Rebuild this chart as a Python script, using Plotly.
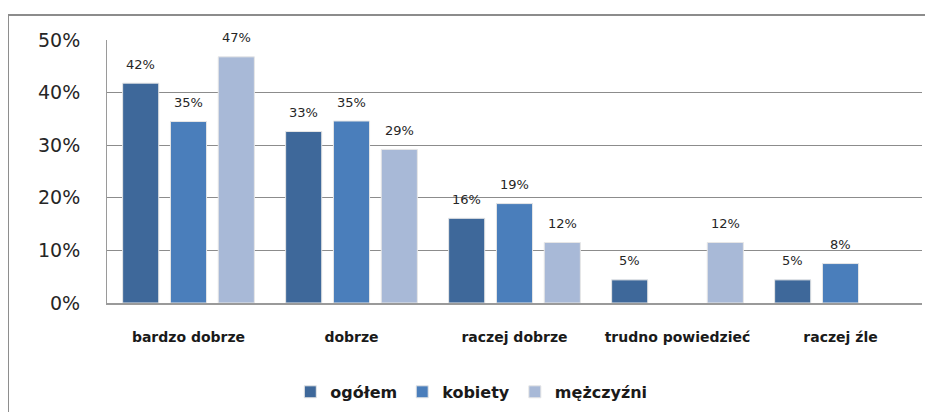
import plotly.graph_objects as go

categories = ["bardzo dobrze", "dobrze", "raczej dobrze", "trudno powiedzieć", "raczej źle"]
series_names = ["ogółem", "kobiety", "mężczyźni"]
ogolem = [41.8, 32.6, 16.1, 4.4, 4.4]
kobiety = [34.5, 34.6, 18.9, 0.0, 7.5]
mezczyzni = [46.8, 29.2, 11.5, 11.5, 0.0]
labels_ogolem = ["42%", "33%", "16%", "5%", "5%"]
labels_kobiety = ["35%", "35%", "19%", "", "8%"]
labels_mezczyzni = ["47%", "29%", "12%", "12%", ""]
y_ticks = [0, 10, 20, 30, 40, 50]
y_tick_labels = ["0%", "10%", "20%", "30%", "40%", "50%"]

colors = ["#3E689A", "#4A7EBB", "#A8B9D7"]
values = [ogolem, kobiety, mezczyzni]
labels = [labels_ogolem, labels_kobiety, labels_mezczyzni]

fig = go.Figure()
for name, vals, col in zip(series_names, values, colors):
    fig.add_trace(go.Bar(
        x=categories, y=vals, name=name,
        marker=dict(color=col, line=dict(color=["#E6E6E6" if v > 0 else "rgba(0,0,0,0)" for v in vals], width=1)),
        hoverinfo="skip",
    ))

# data labels above bars
offsets = [-47.7, 0, 47.7]
for vals, labs, off in zip(values, labels, offsets):
    for c, v, t in zip(categories, vals, labs):
        if t:
            fig.add_annotation(x=c, y=v, text=t, showarrow=False, xref="x", yref="y",
                               xshift=off, yshift=19, yanchor="middle",
                               font=dict(family="DejaVu Sans", size=13, color="#262626"))

# outer frame
fig.add_shape(type="line", xref="paper", yref="paper", x0=-0.1215, x1=1.05, y0=1.0947, y1=1.0947,
              line=dict(color="#8C8C8C", width=2))
fig.add_shape(type="line", xref="paper", yref="paper", x0=-0.1215, x1=-0.1215, y0=1.0947, y1=-0.5,
              line=dict(color="#8C8C8C", width=2))

fig.update_layout(
    width=933, height=412,
    margin=dict(l=99, r=19, t=32, b=116),
    paper_bgcolor="white", plot_bgcolor="white",
    barmode="group", bargap=0.12, bargroupgap=0.245,
    showlegend=True,
    legend=dict(orientation="h", x=0.447, xanchor="center", y=-0.333, yanchor="middle",
                font=dict(family="DejaVu Sans", size=16, color="#1a1a1a", weight="bold"),
                itemclick=False, traceorder="normal", itemwidth=30),
    font=dict(family="DejaVu Sans"),
)
fig.update_xaxes(
    showgrid=False, showline=True, linecolor="#9A9A9A", linewidth=2,
    ticks="outside", ticklen=20, tickcolor="rgba(0,0,0,0)", automargin=False,
    tickfont=dict(family="DejaVu Sans", size=14, color="#1a1a1a", weight="bold"),
)
fig.update_yaxes(
    range=[0, 50], tickvals=y_ticks, ticktext=y_tick_labels,
    showgrid=True, gridcolor="#8C8C8C", gridwidth=1,
    showline=True, linecolor="#9A9A9A", linewidth=1,
    ticks="outside", ticklen=22, tickcolor="rgba(0,0,0,0)", automargin=False,
    tickfont=dict(family="DejaVu Sans", size=19, color="#262626"),
    zeroline=False,
)

fig.write_html("out.html")
